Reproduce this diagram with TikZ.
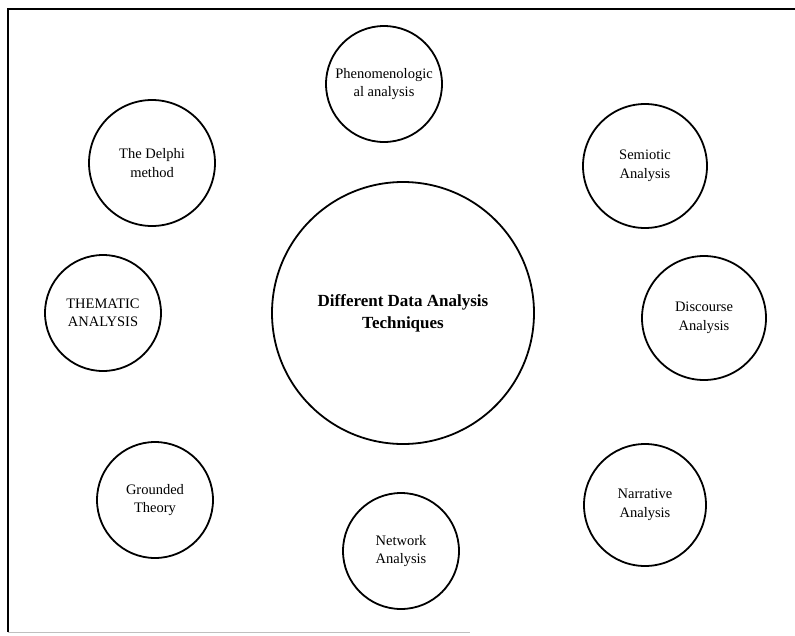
\documentclass[tikz,border=0pt]{standalone}
\usepackage{fontspec}
\setmainfont{Liberation Serif}
\begin{document}
\begin{tikzpicture}[x=1pt,y=-1pt,
  bub/.style={circle,draw=black,line width=1.8pt,minimum size=#1,inner sep=0pt,align=center,font=\fontsize{14.5}{18.5}\selectfont},
  bub/.default=116pt]
\useasboundingbox (0,0) rectangle (795,635);
\fill[white] (0,0) rectangle (795,635);
\coordinate (tl) at (8,9);
\coordinate (tr) at (795,9);
\coordinate (bl) at (8,632);
\coordinate (br) at (470,632);
\draw[line width=1.5pt] (bl) -- (tl) -- (tr);
\draw[line width=1pt,black!25] (bl) -- (br);
\node[bub=262pt,font=\bfseries\fontsize{17}{22}\selectfont] (c) at (403,313) {Different Data Analysis\\Techniques};
\node[bub] (ph) at (384,84) {Phenomenologic\\al analysis};
\node[bub=126pt] (de) at (152,163) {The Delphi\\method};
\node[bub=124pt] (se) at (645,166) {Semiotic\\Analysis};
\node[bub] (th) at (103,313) {THEMATIC\\ANALYSIS};
\node[bub=124pt] (di) at (704,318) {Discourse\\Analysis};
\node[bub] (gr) at (155,500) {Grounded\\Theory};
\node[bub] (ne) at (401,551) {Network\\Analysis};
\node[bub=122pt] (na) at (645,505) {Narrative\\Analysis};
\end{tikzpicture}
\end{document}
